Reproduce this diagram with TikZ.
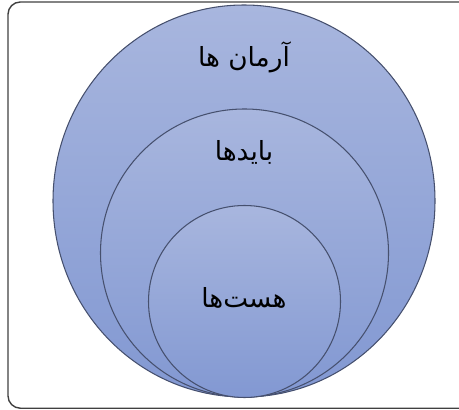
\documentclass[tikz,border=0pt]{standalone}
\usepackage{fontspec}
\newfontfamily\arabicfont[Script=Arabic]{DejaVu Sans}
\TeXXeTstate=1
\definecolor{ringtop}{HTML}{A8B6DE}
\definecolor{ringbot}{HTML}{8298D2}
\definecolor{ringline}{HTML}{46506E}
\begin{document}
\begin{tikzpicture}[x=0.02cm, y=0.02cm, line join=round, line cap=round,
	ring/.style={top color=ringtop, bottom color=ringbot, draw=ringline, line width=0.6pt},
	label/.style={font=\arabicfont\fontsize{15}{18}\selectfont, text=black}]
	\useasboundingbox (0,0) rectangle (459,409);
	\begin{scope}
		\clip (0,0) rectangle (459,409);
		% frame
		\draw[line width=0.8pt, draw=black!75, rounded corners=7pt] (520,0.8) -- (8,0.8) -- (8,407) -- (520,407);
	\end{scope}
	% centres
	\coordinate (O1) at (244,208);
	\coordinate (O2) at (244.5,156);
	\coordinate (O3) at (244.5,107.5);
	\shade[ring] (O1) ellipse [x radius=191, y radius=196];
	\shade[ring] (O2) circle (144);
	\shade[ring] (O3) circle (96);
	\node[label] (armanha) at (244,352) {\beginR آرمان ها\endR};
	\node[label] (bayadha) at (244,257) {\beginR بایدها\endR};
	\node[label] (hastha) at (244,111) {\beginR هست‌ها\endR};
\end{tikzpicture}
\end{document}
